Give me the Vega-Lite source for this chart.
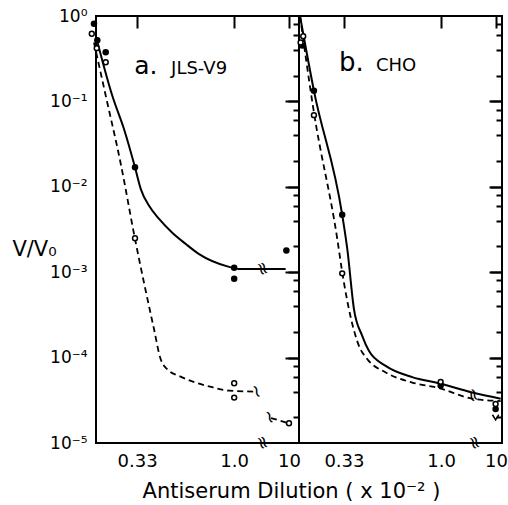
{
  "$schema": "https://vega.github.io/schema/vega-lite/v6.json",
  "background": "white",
  "padding": {"left": 10, "top": 6, "right": 3, "bottom": 5},
  "config": {
    "view": {"stroke": "black", "strokeWidth": 2},
    "axis": {"grid": false, "domain": false, "labelFont": "DejaVu Sans", "labelColor": "black", "tickColor": "black", "tickWidth": 2, "titleFont": "DejaVu Sans", "titleColor": "black", "titleFontWeight": "normal", "labelFlush": false, "labelOverlap": false, "labelBound": false},
    "text": {"font": "DejaVu Sans", "color": "black"}
  },
  "datasets": {
    "pts": [
      {"panel": "a", "kind": "filled", "x": 0.033, "y": 0.81},
      {"panel": "a", "kind": "filled", "x": 0.056, "y": 0.52},
      {"panel": "a", "kind": "filled", "x": 0.114, "y": 0.376},
      {"panel": "a", "kind": "filled", "x": 0.316, "y": 0.0169},
      {"panel": "a", "kind": "filled", "x": 1.0, "y": 0.00113},
      {"panel": "a", "kind": "filled", "x": 1.0, "y": 0.00084},
      {"panel": "a", "kind": "filled", "x": 1.36, "y": 0.0018},
      {"panel": "a", "kind": "open", "x": 0.018, "y": 0.62},
      {"panel": "a", "kind": "open", "x": 0.052, "y": 0.42},
      {"panel": "a", "kind": "open", "x": 0.114, "y": 0.287},
      {"panel": "a", "kind": "open", "x": 0.316, "y": 0.0025},
      {"panel": "a", "kind": "open", "x": 1.0, "y": 0.00005},
      {"panel": "a", "kind": "open", "x": 1.0, "y": 0.000034},
      {"panel": "a", "kind": "open", "x": 1.378, "y": 0.000017},
      {"panel": "b", "kind": "filled", "x": 0.042, "y": 0.45},
      {"panel": "b", "kind": "filled", "x": 0.123, "y": 0.133},
      {"panel": "b", "kind": "filled", "x": 0.318, "y": 0.0047},
      {"panel": "b", "kind": "filled", "x": 0.997, "y": 0.000047},
      {"panel": "b", "kind": "filled", "x": 1.376, "y": 0.000025},
      {"panel": "b", "kind": "open", "x": 0.049, "y": 0.58},
      {"panel": "b", "kind": "open", "x": 0.031, "y": 0.49},
      {"panel": "b", "kind": "open", "x": 0.123, "y": 0.069},
      {"panel": "b", "kind": "open", "x": 0.318, "y": 0.00097},
      {"panel": "b", "kind": "open", "x": 0.997, "y": 0.000052},
      {"panel": "b", "kind": "open", "x": 1.376, "y": 0.0000286}
    ],
    "limits": [
      {"panel": "b", "x": 1.376, "y": 0.00002}
    ],
    "curves": [
      {"panel": "a", "style": "solid", "seg": 1, "x": 0.05, "y": 0.55},
      {"panel": "a", "style": "solid", "seg": 1, "x": 0.16, "y": 0.1155},
      {"panel": "a", "style": "solid", "seg": 1, "x": 0.24, "y": 0.0475},
      {"panel": "a", "style": "solid", "seg": 1, "x": 0.316, "y": 0.0169},
      {"panel": "a", "style": "solid", "seg": 1, "x": 0.356, "y": 0.0094},
      {"panel": "a", "style": "solid", "seg": 1, "x": 0.413, "y": 0.006},
      {"panel": "a", "style": "solid", "seg": 1, "x": 0.482, "y": 0.0042},
      {"panel": "a", "style": "solid", "seg": 1, "x": 0.573, "y": 0.0029},
      {"panel": "a", "style": "solid", "seg": 1, "x": 0.666, "y": 0.00214},
      {"panel": "a", "style": "solid", "seg": 1, "x": 0.758, "y": 0.00163},
      {"panel": "a", "style": "solid", "seg": 1, "x": 0.953, "y": 0.00117},
      {"panel": "a", "style": "solid", "seg": 1, "x": 1.033, "y": 0.00109},
      {"panel": "a", "style": "solid", "seg": 1, "x": 1.355, "y": 0.00109},
      {"panel": "a", "style": "dashed", "seg": 1, "x": 0.033, "y": 0.49},
      {"panel": "a", "style": "dashed", "seg": 1, "x": 0.114, "y": 0.117},
      {"panel": "a", "style": "dashed", "seg": 1, "x": 0.218, "y": 0.0185},
      {"panel": "a", "style": "dashed", "seg": 1, "x": 0.316, "y": 0.00245},
      {"panel": "a", "style": "dashed", "seg": 1, "x": 0.447, "y": 0.000216},
      {"panel": "a", "style": "dashed", "seg": 1, "x": 0.493, "y": 0.000096},
      {"panel": "a", "style": "dashed", "seg": 1, "x": 0.551, "y": 0.00007},
      {"panel": "a", "style": "dashed", "seg": 1, "x": 0.62, "y": 0.000061},
      {"panel": "a", "style": "dashed", "seg": 1, "x": 0.735, "y": 0.000051},
      {"panel": "a", "style": "dashed", "seg": 1, "x": 0.849, "y": 0.000045},
      {"panel": "a", "style": "dashed", "seg": 1, "x": 0.964, "y": 0.000041},
      {"panel": "a", "style": "dashed", "seg": 1, "x": 1.149, "y": 0.00004},
      {"panel": "a", "style": "dashed", "seg": 2, "x": 1.254, "y": 0.0000196},
      {"panel": "a", "style": "dashed", "seg": 2, "x": 1.378, "y": 0.000017},
      {"panel": "b", "style": "solid", "seg": 1, "x": 0.027, "y": 1.0},
      {"panel": "b", "style": "solid", "seg": 1, "x": 0.123, "y": 0.133},
      {"panel": "b", "style": "solid", "seg": 1, "x": 0.318, "y": 0.0047},
      {"panel": "b", "style": "solid", "seg": 1, "x": 0.353, "y": 0.00187},
      {"panel": "b", "style": "solid", "seg": 1, "x": 0.399, "y": 0.00037},
      {"panel": "b", "style": "solid", "seg": 1, "x": 0.456, "y": 0.00018},
      {"panel": "b", "style": "solid", "seg": 1, "x": 0.502, "y": 0.00012},
      {"panel": "b", "style": "solid", "seg": 1, "x": 0.618, "y": 0.00008},
      {"panel": "b", "style": "solid", "seg": 1, "x": 0.801, "y": 0.000059},
      {"panel": "b", "style": "solid", "seg": 1, "x": 0.985, "y": 0.00005},
      {"panel": "b", "style": "solid", "seg": 1, "x": 1.215, "y": 0.000039},
      {"panel": "b", "style": "solid", "seg": 1, "x": 1.411, "y": 0.000033},
      {"panel": "b", "style": "dashed", "seg": 1, "x": 0.027, "y": 1.0},
      {"panel": "b", "style": "dashed", "seg": 1, "x": 0.12, "y": 0.08},
      {"panel": "b", "style": "dashed", "seg": 1, "x": 0.284, "y": 0.00245},
      {"panel": "b", "style": "dashed", "seg": 1, "x": 0.318, "y": 0.001},
      {"panel": "b", "style": "dashed", "seg": 1, "x": 0.433, "y": 0.000138},
      {"panel": "b", "style": "dashed", "seg": 1, "x": 0.491, "y": 0.000096},
      {"panel": "b", "style": "dashed", "seg": 1, "x": 0.618, "y": 0.000067},
      {"panel": "b", "style": "dashed", "seg": 1, "x": 0.801, "y": 0.000051},
      {"panel": "b", "style": "dashed", "seg": 1, "x": 0.985, "y": 0.000044},
      {"panel": "b", "style": "dashed", "seg": 1, "x": 1.215, "y": 0.000033},
      {"panel": "b", "style": "dashed", "seg": 1, "x": 1.411, "y": 0.000031}
    ],
    "breaks": [
      {"panel": "a", "x": 1.192, "y": 0.00109, "sym": "≈"},
      {"panel": "a", "x": 1.151, "y": 0.00004, "sym": "~"},
      {"panel": "a", "x": 1.24, "y": 0.00002, "sym": "~"},
      {"panel": "a", "x": 1.192, "y": 0.00001, "sym": "≈"},
      {"panel": "b", "x": 1.215, "y": 0.000036, "sym": "≈"},
      {"panel": "b", "x": 1.227, "y": 0.00001, "sym": "≈"}
    ],
    "labels": [
      {"panel": "a", "part": "letter", "text": "a."},
      {"panel": "a", "part": "name", "text": "JLS-V9"},
      {"panel": "b", "part": "letter", "text": "b."},
      {"panel": "b", "part": "name", "text": "CHO"}
    ]
  },
  "spacing": 0,
  "bounds": "flush",
  "hconcat": [
    {
      "width": 203,
      "height": 427,
      "resolve": {"axis": {"x": "independent", "y": "independent"}},
      "layer": [
        {
          "data": {"name": "curves"},
          "transform": [{"filter": "datum.panel === 'a' && datum.style === 'solid'"}],
          "mark": {"type": "line", "interpolate": "monotone", "color": "black", "strokeWidth": 2, "clip": false},
          "encoding": {
            "x": {"field": "x", "type": "quantitative", "scale": {"domain": [0.047, 1.447], "nice": false, "zero": false},
                  "axis": {"values": [0.33, 1.0, 1.378], "ticks": false, "labelPadding": 9, "labelFontSize": 18, "labelExpr": "datum.value > 1.2 ? '10' : datum.value > 0.5 ? '1.0' : '0.33'",
                           "title": "Antiserum Dilution ( x 10⁻² )", "titleFontSize": 21, "titleX": 195, "titleY": 54, "titleAlign": "center", "titleBaseline": "alphabetic"}},
            "y": {"field": "y", "type": "quantitative", "scale": {"type": "log", "domain": [0.00001, 1], "nice": false},
                  "axis": {"values": [1, 0.1, 0.01, 0.001, 0.0001, 0.00001], "ticks": false, "labelPadding": 9, "labelFontSize": 17, "labelBaseline": "middle",
                           "labelExpr": "'10' + ['⁰','⁻¹','⁻²','⁻³','⁻⁴','⁻⁵'][round(-log(datum.value)/LN10)]",
                           "title": "V/V₀", "titleAngle": 0, "titleX": -62, "titleY": 233, "titleAlign": "center", "titleBaseline": "middle", "titleFontSize": 21}},
            "detail": {"field": "seg"}
          }
        },
        {
          "data": {"name": "curves"},
          "transform": [{"filter": "datum.panel === 'a' && datum.style === 'dashed'"}],
          "mark": {"type": "line", "interpolate": "monotone", "color": "black", "strokeWidth": 1.8, "strokeDash": [6, 4], "clip": false},
          "encoding": {
            "x": {"field": "x", "type": "quantitative", "scale": {"domain": [0.047, 1.447], "nice": false, "zero": false},
                  "axis": {"values": [0.33, 1.0, 1.378], "labels": false, "tickSize": -12, "title": null}},
            "y": {"field": "y", "type": "quantitative", "scale": {"type": "log", "domain": [0.00001, 1], "nice": false},
                  "axis": {"values": [0.1, 0.01, 0.001, 0.0001], "labels": false, "tickSize": -14, "title": null}},
            "detail": {"field": "seg"}
          }
        },
        {
          "data": {"name": "pts"},
          "transform": [{"filter": "datum.panel === 'a' && datum.kind === 'filled'"}],
          "mark": {"type": "point", "shape": "circle", "filled": true, "color": "black", "size": 42, "opacity": 1},
          "encoding": {
            "x": {"field": "x", "type": "quantitative", "scale": {"domain": [0.047, 1.447], "nice": false, "zero": false}, "axis": null},
            "y": {"field": "y", "type": "quantitative", "scale": {"type": "log", "domain": [0.00001, 1], "nice": false},
                  "axis": {"values": [0.8, 0.6, 0.4, 0.2, 0.08, 0.06, 0.04, 0.02, 0.008, 0.006, 0.004, 0.002, 0.0008, 0.0006, 0.0004, 0.0002, 0.00008, 0.00006, 0.00004, 0.00002], "labels": false, "tickSize": -6, "title": null}}
          }
        },
        {
          "data": {"name": "pts"},
          "transform": [{"filter": "datum.panel === 'a' && datum.kind === 'open'"}],
          "mark": {"type": "point", "shape": "circle", "filled": true, "fill": "white", "stroke": "black", "strokeWidth": 1.5, "size": 24, "opacity": 1},
          "encoding": {
            "x": {"field": "x", "type": "quantitative", "scale": {"domain": [0.047, 1.447], "nice": false, "zero": false}, "axis": null},
            "y": {"field": "y", "type": "quantitative", "scale": {"type": "log", "domain": [0.00001, 1], "nice": false}, "axis": null}
          }
        },
        {
          "data": {"name": "breaks"},
          "transform": [{"filter": "datum.panel === 'a'"}],
          "mark": {"type": "text", "fontSize": 18, "angle": 70, "align": "center", "baseline": "middle"},
          "encoding": {
            "x": {"field": "x", "type": "quantitative", "scale": {"domain": [0.047, 1.447], "nice": false, "zero": false}, "axis": null},
            "y": {"field": "y", "type": "quantitative", "scale": {"type": "log", "domain": [0.00001, 1], "nice": false}, "axis": null},
            "text": {"field": "sym"}
          }
        },
        {
          "data": {"name": "labels"},
          "transform": [{"filter": "datum.panel === 'a' && datum.part === 'letter'"}],
          "mark": {"type": "text", "fontSize": 25, "align": "left", "baseline": "alphabetic"},
          "encoding": {
            "x": {"datum": 0.31, "type": "quantitative", "axis": null},
            "y": {"datum": 0.21, "type": "quantitative", "axis": null},
            "text": {"field": "text"}
          }
        },
        {
          "data": {"name": "labels"},
          "transform": [{"filter": "datum.panel === 'a' && datum.part === 'name'"}],
          "mark": {"type": "text", "fontSize": 18, "align": "left", "baseline": "alphabetic"},
          "encoding": {
            "x": {"datum": 0.565, "type": "quantitative", "axis": null},
            "y": {"datum": 0.21, "type": "quantitative", "axis": null},
            "text": {"field": "text"}
          }
        }
      ]
    },
    {
      "width": 203,
      "height": 427,
      "resolve": {"axis": {"x": "independent", "y": "independent"}},
      "layer": [
        {
          "data": {"name": "curves"},
          "transform": [{"filter": "datum.panel === 'b' && datum.style === 'solid'"}],
          "mark": {"type": "line", "interpolate": "monotone", "color": "black", "strokeWidth": 2, "clip": false},
          "encoding": {
            "x": {"field": "x", "type": "quantitative", "scale": {"domain": [0.02, 1.42], "nice": false, "zero": false},
                  "axis": {"values": [0.33, 1.0, 1.378], "ticks": false, "labelPadding": 9, "labelFontSize": 18, "labelExpr": "datum.value > 1.2 ? '10' : datum.value > 0.5 ? '1.0' : '0.33'", "title": null}},
            "y": {"field": "y", "type": "quantitative", "scale": {"type": "log", "domain": [0.00001, 1], "nice": false},
                  "axis": {"values": [0.1, 0.01, 0.001, 0.0001], "labels": false, "tickSize": 11, "title": null}},
            "detail": {"field": "seg"}
          }
        },
        {
          "data": {"name": "curves"},
          "transform": [{"filter": "datum.panel === 'b' && datum.style === 'dashed'"}],
          "mark": {"type": "line", "interpolate": "monotone", "color": "black", "strokeWidth": 1.8, "strokeDash": [6, 4], "clip": false},
          "encoding": {
            "x": {"field": "x", "type": "quantitative", "scale": {"domain": [0.02, 1.42], "nice": false, "zero": false},
                  "axis": {"values": [0.33, 1.0, 1.378], "labels": false, "tickSize": -12, "title": null}},
            "y": {"field": "y", "type": "quantitative", "scale": {"type": "log", "domain": [0.00001, 1], "nice": false},
                  "axis": {"values": [0.1, 0.01, 0.001, 0.0001], "labels": false, "tickSize": -12, "title": null}},
            "detail": {"field": "seg"}
          }
        },
        {
          "data": {"name": "pts"},
          "transform": [{"filter": "datum.panel === 'b' && datum.kind === 'filled'"}],
          "mark": {"type": "point", "shape": "circle", "filled": true, "color": "black", "size": 42, "opacity": 1},
          "encoding": {
            "x": {"field": "x", "type": "quantitative", "scale": {"domain": [0.02, 1.42], "nice": false, "zero": false}, "axis": null},
            "y": {"field": "y", "type": "quantitative", "scale": {"type": "log", "domain": [0.00001, 1], "nice": false},
                  "axis": {"orient": "right", "values": [0.1, 0.01, 0.001, 0.0001], "labels": false, "tickSize": -13, "title": null}}
          }
        },
        {
          "data": {"name": "pts"},
          "transform": [{"filter": "datum.panel === 'b' && datum.kind === 'open'"}],
          "mark": {"type": "point", "shape": "circle", "filled": true, "fill": "white", "stroke": "black", "strokeWidth": 1.5, "size": 24, "opacity": 1},
          "encoding": {
            "x": {"field": "x", "type": "quantitative", "scale": {"domain": [0.02, 1.42], "nice": false, "zero": false}, "axis": null},
            "y": {"field": "y", "type": "quantitative", "scale": {"type": "log", "domain": [0.00001, 1], "nice": false},
                  "axis": {"orient": "right", "values": [0.8, 0.6, 0.4, 0.2, 0.08, 0.06, 0.04, 0.02, 0.008, 0.006, 0.004, 0.002, 0.0008, 0.0006, 0.0004, 0.0002, 0.00008, 0.00006, 0.00004, 0.00002], "labels": false, "tickSize": -6, "title": null}}
          }
        },
        {
          "data": {"name": "limits"},
          "mark": {"type": "point", "shape": "M-1,-0.8L0,0.8L1,-0.8", "filled": false, "stroke": "black", "strokeWidth": 1.5, "size": 40, "opacity": 1},
          "encoding": {
            "x": {"field": "x", "type": "quantitative", "scale": {"domain": [0.02, 1.42], "nice": false, "zero": false}, "axis": null},
            "y": {"field": "y", "type": "quantitative", "scale": {"type": "log", "domain": [0.00001, 1], "nice": false}, "axis": null}
          }
        },
        {
          "data": {"name": "breaks"},
          "transform": [{"filter": "datum.panel === 'b'"}],
          "mark": {"type": "text", "fontSize": 18, "angle": 70, "align": "center", "baseline": "middle"},
          "encoding": {
            "x": {"field": "x", "type": "quantitative", "scale": {"domain": [0.02, 1.42], "nice": false, "zero": false}, "axis": null},
            "y": {"field": "y", "type": "quantitative", "scale": {"type": "log", "domain": [0.00001, 1], "nice": false}, "axis": null},
            "text": {"field": "sym"}
          }
        },
        {
          "data": {"name": "labels"},
          "transform": [{"filter": "datum.panel === 'b' && datum.part === 'letter'"}],
          "mark": {"type": "text", "fontSize": 26, "align": "left", "baseline": "alphabetic"},
          "encoding": {
            "x": {"datum": 0.296, "type": "quantitative", "axis": null},
            "y": {"datum": 0.227, "type": "quantitative", "axis": null},
            "text": {"field": "text"}
          }
        },
        {
          "data": {"name": "labels"},
          "transform": [{"filter": "datum.panel === 'b' && datum.part === 'name'"}],
          "mark": {"type": "text", "fontSize": 18, "align": "left", "baseline": "alphabetic"},
          "encoding": {
            "x": {"datum": 0.551, "type": "quantitative", "axis": null},
            "y": {"datum": 0.227, "type": "quantitative", "axis": null},
            "text": {"field": "text"}
          }
        }
      ]
    }
  ]
}
